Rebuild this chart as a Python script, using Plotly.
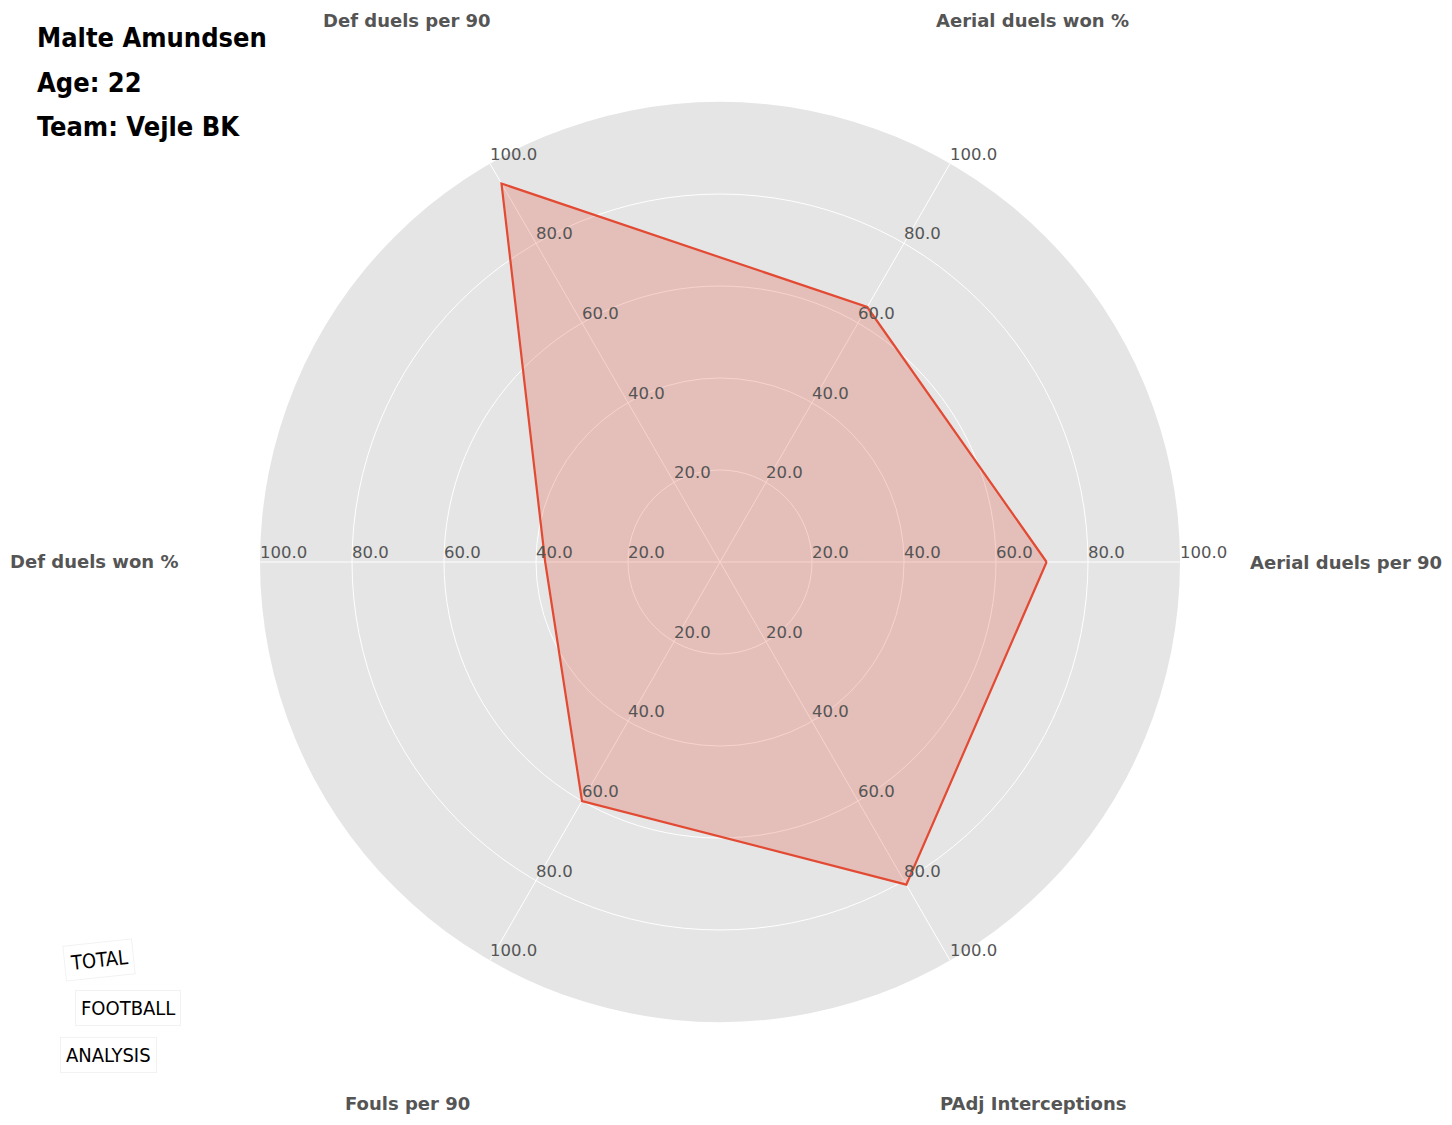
import math
import plotly.graph_objects as go

categories = ["Aerial duels per 90", "Aerial duels won %", "Def duels per 90",
              "Def duels won %", "Fouls per 90", "PAdj Interceptions"]
values = [71, 64, 95, 38, 60, 81]
tick_values = [20, 40, 60, 80, 100]
tick_labels = ["20.0", "40.0", "60.0", "80.0", "100.0"]
label_radius = 136
title_lines = ["Malte Amundsen", "Age: 22", "Team: Vejle BK"]
logo_words = ["TOTAL", "FOOTBALL", "ANALYSIS"]

W, H = 1452, 1125
OFF = 8  # page body margin
cx, cy, R = 720 - OFF, 562 - OFF, 460
RMAX = 100

fig = go.Figure()

# data polygon
fig.add_trace(go.Scatterpolar(
    r=values + values[:1], theta=categories + categories[:1],
    mode="lines", fill="toself", fillcolor="rgba(226,74,51,0.25)",
    line=dict(color="#e24a33", width=2.2), hoverinfo="skip", showlegend=False))

# radial tick labels on every spoke
tr, tt, ttx = [], [], []
for c in categories:
    for v, lab in zip(tick_values, tick_labels):
        tr.append(v); tt.append(c); ttx.append(lab)
fig.add_trace(go.Scatterpolar(
    r=tr, theta=tt, text=ttx, mode="text", textposition="top right",
    textfont=dict(family="DejaVu Sans", size=16.5, color="#555555"),
    cliponaxis=False, hoverinfo="skip", showlegend=False))

fig.update_layout(
    width=W, height=H,
    margin=dict(l=0, r=0, t=0, b=0),
    paper_bgcolor="white",
    polar=dict(
        domain=dict(x=[(cx - R) / W, (cx + R) / W],
                    y=[(H - cy - R) / H, (H - cy + R) / H]),
        bgcolor="#e5e5e5",
        radialaxis=dict(range=[0, RMAX], tickvals=tick_values, showticklabels=False,
                        ticks="", showline=False, gridcolor="white", gridwidth=1.3),
        angularaxis=dict(direction="counterclockwise", rotation=0,
                         showticklabels=False, ticks="", showline=False,
                         gridcolor="white", gridwidth=1.3),
    ),
)

# category labels, placed on each spoke's angle beyond the outer ring
n = len(categories)
for i, c in enumerate(categories):
    ang = 2 * math.pi * i / n
    px = cx + label_radius / RMAX * R * math.cos(ang)
    py = cy - label_radius / RMAX * R * math.sin(ang)
    fig.add_annotation(
        x=px / W, y=1 - py / H, xref="paper", yref="paper", text="<b>" + c + "</b>",
        showarrow=False, xanchor="center", yanchor="middle",
        font=dict(family="DejaVu Sans", size=18, color="#555555"))

# title block
for i, line in enumerate(title_lines):
    fig.add_annotation(
        x=27 / W, y=1 - (30 + i * 44.5) / H, xref="paper", yref="paper",
        text="<b>" + line + "</b>", showarrow=False, xanchor="left", yanchor="middle",
        font=dict(family="DejaVu Sans Condensed", size=27, color="black"))

# logo
logo_pos = [(91, 952, -6), (120, 1000, 0), (100, 1047, 0)]
for word, (lx, ly, ang) in zip(logo_words, logo_pos):
    fig.add_annotation(
        x=lx / W, y=1 - ly / H, xref="paper", yref="paper", text=word,
        showarrow=False, textangle=ang, bgcolor="white", xanchor="center",
        yanchor="middle", bordercolor="#f2f2f2", borderwidth=1, borderpad=5,
        font=dict(family="DejaVu Sans Condensed", size=20, color="black"))

fig.write_html("out.html")
